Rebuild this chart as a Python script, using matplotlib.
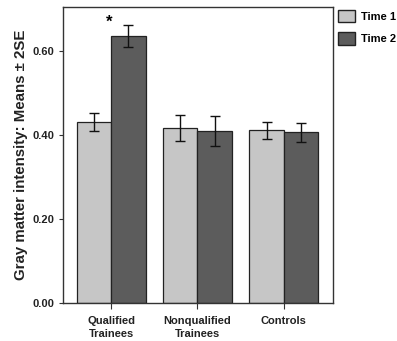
import numpy as np
import matplotlib
matplotlib.use("Agg")
import matplotlib.pyplot as plt
from matplotlib.patches import Patch

# data
groups = ["Qualified\nTrainees", "Nonqualified\nTrainees", "Controls"]
time1 = [0.431, 0.417, 0.412]
time2 = [0.636, 0.410, 0.407]
err1 = [0.021, 0.031, 0.020]
err2 = [0.027, 0.035, 0.022]
yticks = [0.0, 0.2, 0.4, 0.6]

plt.rcParams["font.family"] = ["Liberation Sans", "DejaVu Sans"]
plt.rcParams["font.weight"] = "bold"

c1 = "#c6c6c6"
c2 = "#5c5c5c"

fig = plt.figure(figsize=(3.97, 3.41), dpi=100)
ax = fig.add_axes([0.159, 0.111, 0.680, 0.868])

x = np.arange(len(groups))
w = 0.4
ax.bar(x - w/2, time1, w, color=c1, edgecolor="#222222", linewidth=0.9, zorder=2)
ax.bar(x + w/2, time2, w, color=c2, edgecolor="#222222", linewidth=0.9, zorder=2)
ax.errorbar(x - w/2, time1, yerr=err1, fmt="none", ecolor="#111111",
            elinewidth=1.0, capsize=3.5, capthick=1.0, zorder=3)
ax.errorbar(x + w/2, time2, yerr=err2, fmt="none", ecolor="#111111",
            elinewidth=1.0, capsize=3.5, capthick=1.0, zorder=3)

ax.text(-0.02, 0.668, "*", ha="center", va="center", fontsize=12, fontweight="bold")

ax.set_xlim(-0.555, 2.57)
ax.set_ylim(0, 0.705)
ax.set_yticks(yticks)
ax.set_yticklabels(["%.2f" % v for v in yticks], fontsize=8, fontweight="bold", color="#222222")
ax.set_xticks(x)
ax.set_xticklabels(groups, fontsize=8, fontweight="bold", color="#222222", linespacing=1.45)
ax.tick_params(axis="x", length=4, width=0.8, color="#333333", pad=5)
ax.tick_params(axis="y", length=3, width=0.8, color="#333333")
ax.set_ylabel("Gray matter intensity: Means \u00b1 2SE", fontsize=10.8,
              fontweight="bold", color="#222222", labelpad=3)
for s in ax.spines.values():
    s.set_linewidth(1.0)
    s.set_color("#333333")

handles = [Patch(facecolor=c1, edgecolor="#222222", label="Time 1"),
           Patch(facecolor=c2, edgecolor="#222222", label="Time 2")]
fig.legend(handles=handles, loc="upper left", bbox_to_anchor=(0.84, 0.985),
           frameon=False, fontsize=8, handlelength=1.5, handleheight=1.4,
           handletextpad=0.6, labelspacing=0.85, borderaxespad=0)

fig.savefig("out.png", dpi=100)
